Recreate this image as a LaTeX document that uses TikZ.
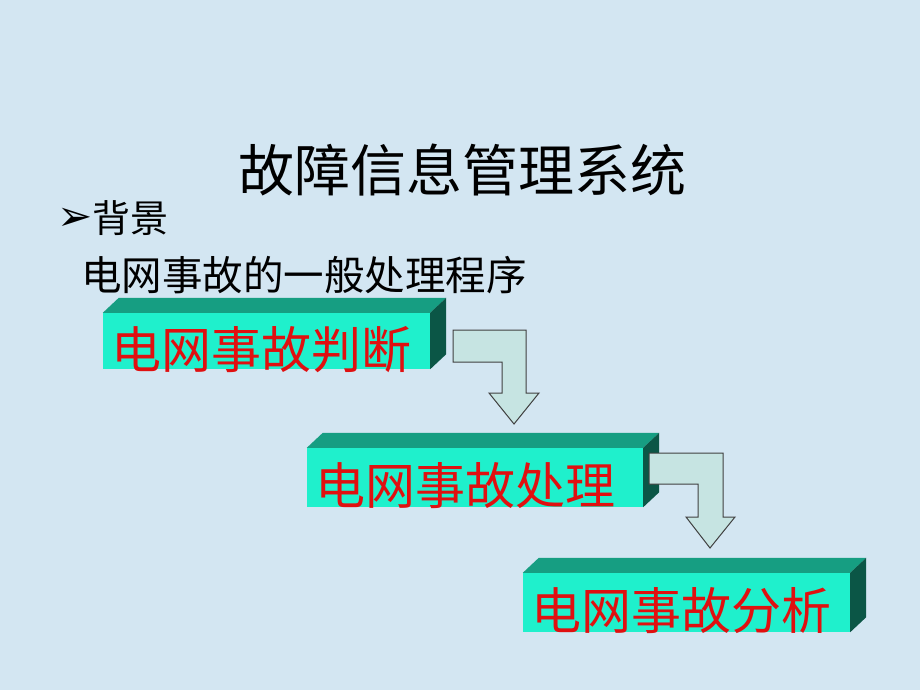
\documentclass[tikz,border=0pt]{standalone}
\usepackage{fontspec}
\setmainfont{Liberation Serif}
\newfontfamily\cjk{Noto Sans CJK SC}
\newfontfamily\dejavufont{DejaVu Sans Bold}
\definecolor{bgblue}{HTML}{D3E6F2}
\definecolor{frontc}{HTML}{1FF0CC}
\definecolor{topc}{HTML}{169E82}
\definecolor{sidec}{HTML}{0B5646}
\definecolor{arrowc}{HTML}{C6E4E2}
\definecolor{redtxt}{HTML}{E01010}
\tikzset{
  front/.style={fill=frontc, draw=none, inner sep=0pt},
  topface/.style={fill=topc, draw=none},
  sideface/.style={fill=sidec, draw=none},
  boxtext/.style={font=\cjk\fontsize{50}{50}\selectfont, text=redtxt, inner sep=0pt, anchor=west},
  blockarrow/.style={fill=arrowc, draw=black!75, line width=1pt, line join=miter},
}
\newcommand{\threedbox}[5]{%
  \node[front, minimum width=#3, minimum height=#4] (#1) at #2 {};
  \fill[topface] (#1.north west) -- ++(16,-15) -- ([shift={(16,-15)}]#1.north east) -- (#1.north east) -- cycle;
  \fill[sideface] (#1.north east) -- ++(16,-15) -- ([shift={(16,-15)}]#1.south east) -- (#1.south east) -- cycle;
  \node[boxtext] (#1t) at ([xshift=8pt, yshift=-8.5pt]#1.west) {#5};
}
\begin{document}
\begin{tikzpicture}[x=1pt,y=-1pt]
\path[fill=bgblue] (0,0) rectangle (920,690);
\useasboundingbox (0,0) rectangle (920,690);

\node[font=\cjk\fontsize{56}{56}\selectfont, inner sep=0pt] (title) at (462,170) {故障信息管理系统};
\node[font=\dejavufont\fontsize{42}{42}\selectfont, inner sep=0pt, anchor=west] (bullet) at (57,219) {➢};
\node[font=\cjk\fontsize{38}{38}\selectfont, inner sep=0pt, anchor=west] (bg) at (92,218) {背景};
\node[font=\cjk\fontsize{40.5}{40.5}\selectfont, inner sep=0pt, anchor=west] (sub) at (81,275) {电网事故的一般处理程序};

% boxes
\threedbox{b1}{(266.5,341)}{327}{56}{电网事故判断}
\threedbox{b2}{(475,477.5)}{336}{59}{电网事故处理}
\threedbox{b3}{(686.5,602.5)}{327}{59}{电网事故分析}

% elbow block arrows
\draw[blockarrow] (453,330) -- (526,330) -- (526,393) -- (539,393) -- (514,424) -- (489,393) -- (502,393) -- (502,362) -- (453,362) -- cycle;
\draw[blockarrow] (649,453) -- (723,453) -- (723,517) -- (735,517) -- (710,548) -- (686,517) -- (698,517) -- (698,484) -- (649,484) -- cycle;
\end{tikzpicture}
\end{document}
